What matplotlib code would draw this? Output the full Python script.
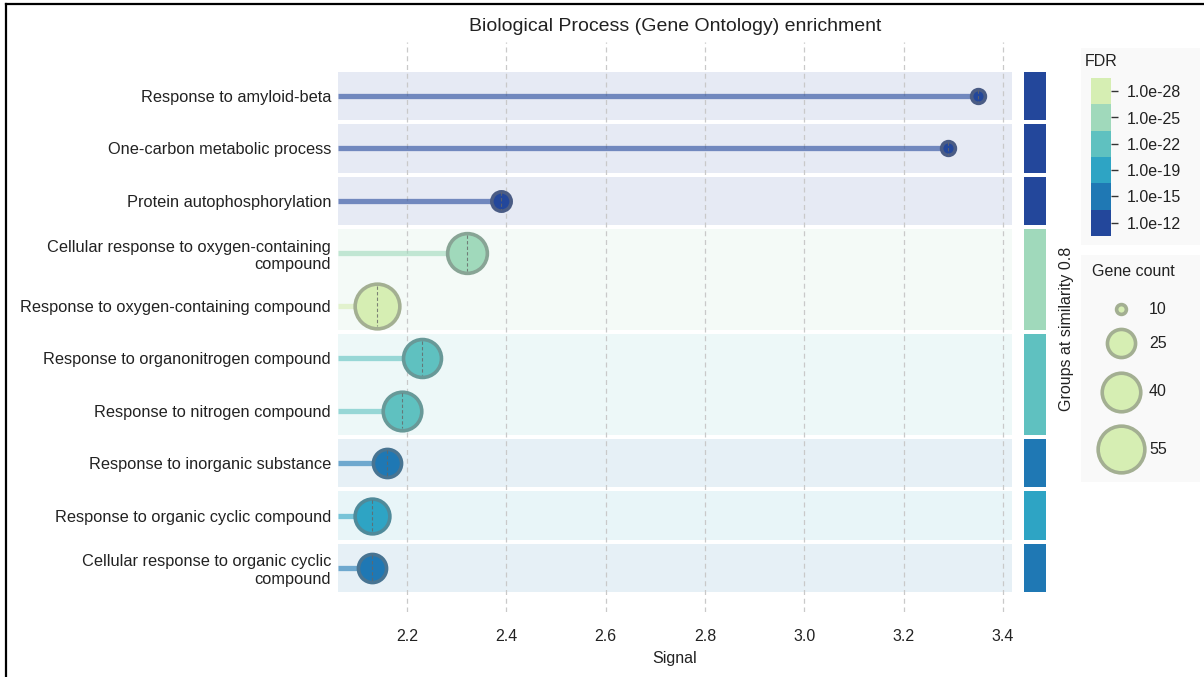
import matplotlib.pyplot as plt
import numpy as np
from matplotlib.colors import to_rgb, ListedColormap
from matplotlib.patches import Rectangle
from matplotlib.lines import Line2D

plt.rcParams['font.family'] = ['Liberation Sans', 'DejaVu Sans']

terms = [
    "Response to amyloid-beta",
    "One-carbon metabolic process",
    "Protein autophosphorylation",
    "Cellular response to oxygen-containing\ncompound",
    "Response to oxygen-containing compound",
    "Response to organonitrogen compound",
    "Response to nitrogen compound",
    "Response to inorganic substance",
    "Response to organic cyclic compound",
    "Cellular response to organic cyclic\ncompound",
]
signal = [3.35, 3.29, 2.39, 2.32, 2.14, 2.23, 2.19, 2.16, 2.13, 2.13]
gene_count = [12, 12, 16, 42, 51, 39, 40, 25, 34, 25]
fdr = [1e-12, 1e-12, 1e-12, 1e-25, 1e-28, 1e-22, 1e-22, 1e-15, 1e-19, 1e-15]

# similarity groups: (first row, last row, group FDR)
groups = [(0, 0, 1e-12), (1, 1, 1e-12), (2, 2, 1e-12), (3, 4, 1e-25),
          (5, 6, 1e-22), (7, 7, 1e-15), (8, 8, 1e-19), (9, 9, 1e-15)]

fdr_levels = [1e-28, 1e-25, 1e-22, 1e-19, 1e-15, 1e-12]
fdr_labels = ["1.0e-28", "1.0e-25", "1.0e-22", "1.0e-19", "1.0e-15", "1.0e-12"]
fdr_palette = ['#d6eeb3', '#a0d9bb', '#5fc1c0', '#2ea4c4', '#1f78b4', '#23479b']

legend_counts = [10, 25, 40, 55]

W, H, DPI = 1204, 677, 100
FS = 11.5
TXT = '#222222'


def fdr_color(v):
    return fdr_palette[fdr_levels.index(v)]


def size_of(c):
    return max(24 * c - 190, 40)


def mix(c, other, t):
    a, b = np.array(to_rgb(c)), np.array(to_rgb(other))
    return tuple(a * (1 - t) + b * t)


def px(x0, y0, w, h):
    return [x0 / W, 1 - (y0 + h) / H, w / W, h / H]


fig = plt.figure(figsize=(W / DPI, H / DPI), dpi=DPI)

# overlay in pixel coordinates for the legend boxes and gene-count key
lax = fig.add_axes([0, 0, 1, 1], facecolor='none')
lax.set_xlim(0, W)
lax.set_ylim(H, 0)
lax.axis('off')
lax.set_zorder(0)

ax = fig.add_axes(px(338, 42, 674, 570))
ax.set_zorder(1)

n = len(terms)
ypos = np.arange(n)
x_lo, x_hi = 2.061, 3.418
ax.set_xlim(x_lo, x_hi)
ax.set_ylim(n - 1 + 0.84, -1.03)

# group bands
half = 0.465
for g0, g1, gv in groups:
    ax.add_patch(Rectangle((x_lo, g0 - half), x_hi - x_lo, g1 - g0 + 2 * half,
                           facecolor=fdr_color(gv), alpha=0.11, lw=0, zorder=1))

ticks = np.arange(2.2, 3.41, 0.2)
for t in ticks:
    ax.axvline(t, color='#c9c9c9', lw=0.9, ls=(0, (4, 3)), zorder=2)

# px per data unit on y, for the dashes inside the bubbles
ppu = 570 / (n - 1 + 0.84 + 1.03)

for i in range(n):
    col = fdr_color(fdr[i])
    ax.plot([x_lo, signal[i]], [ypos[i], ypos[i]], color=col, alpha=0.6,
            lw=3.8, solid_capstyle='butt', zorder=3)
    s = size_of(gene_count[i])
    ax.scatter(signal[i], ypos[i], s=s, color=col,
               edgecolors=[mix(col, '#707070', 0.5)], linewidths=2.6, zorder=4)
    r = np.sqrt(s) * DPI / 72 / 2 * 0.9 / ppu
    ax.plot([signal[i], signal[i]], [ypos[i] - r, ypos[i] + r], color='#666666',
            lw=0.8, ls=(0, (3, 2)), alpha=0.8, zorder=5)

ax.set_yticks(ypos)
ax.set_yticklabels(terms, fontsize=11.8, color=TXT, multialignment='right')
ax.set_xticks(ticks)
ax.set_xticklabels([f"{v:.1f}" for v in ticks], fontsize=FS, color=TXT)
ax.tick_params(length=0, pad=5)
ax.tick_params(axis='x', pad=12)
ax.set_xlabel("Signal", fontsize=FS, labelpad=5, color=TXT)
ax.set_title("Biological Process (Gene Ontology) enrichment", fontsize=14,
             pad=8, color=TXT)
for sp in ax.spines.values():
    sp.set_visible(False)

# group side bar
gax = fig.add_axes(px(1024, 42, 22, 570), sharey=ax)
gax.set_xlim(0, 1)
for g0, g1, gv in groups:
    gax.add_patch(Rectangle((0, g0 - half), 1, g1 - g0 + 2 * half,
                            facecolor=fdr_color(gv), lw=0))
gax.axis('off')
fig.text(1066 / W, 1 - 329 / H, "Groups at similarity 0.8", rotation=90,
         ha='center', va='center', fontsize=FS, color=TXT)

# legend backgrounds
lax.add_patch(Rectangle((1081, 48), 119, 197, facecolor='#f9f9f9', lw=0, zorder=0))
lax.add_patch(Rectangle((1081, 255), 119, 227, facecolor='#f9f9f9', lw=0, zorder=0))

# FDR colour bar
cax = fig.add_axes(px(1091, 78, 20, 158))
cax.set_zorder(2)
cax.imshow(np.arange(len(fdr_levels)).reshape(-1, 1), cmap=ListedColormap(fdr_palette),
           aspect='auto', extent=(0, 1, len(fdr_levels) - 0.5, -0.5))
cax.set_xticks([])
cax.yaxis.tick_right()
cax.set_yticks(np.arange(len(fdr_levels)))
cax.set_yticklabels(fdr_labels, fontsize=FS, color=TXT)
cax.tick_params(axis='y', length=5, width=1, pad=6, color='#333333')
for sp in cax.spines.values():
    sp.set_visible(False)
lax.text(1085, 62, "FDR", ha='left', va='center', fontsize=FS, color=TXT)

# gene count key
lax.text(1133, 272, "Gene count", ha='center', va='center', fontsize=FS, color=TXT)
leg_y = [309, 343, 392, 449]
col = fdr_palette[0]
for c, yy in zip(legend_counts, leg_y):
    lax.scatter(1121, yy, s=size_of(c), color=col,
                edgecolors=[mix(col, '#707070', 0.5)], linewidths=2.6, zorder=3)
    lax.text(1149, yy, str(c), ha='left', va='center', fontsize=FS, color=TXT)

# outer frame
fig.add_artist(Line2D([5.5 / W, 5.5 / W], [0, 1 - 4 / H], transform=fig.transFigure,
                      color='black', lw=1.6))
fig.add_artist(Line2D([5.5 / W, 1], [1 - 4 / H, 1 - 4 / H], transform=fig.transFigure,
                      color='black', lw=1.6))

fig.savefig("out.png", dpi=DPI)
